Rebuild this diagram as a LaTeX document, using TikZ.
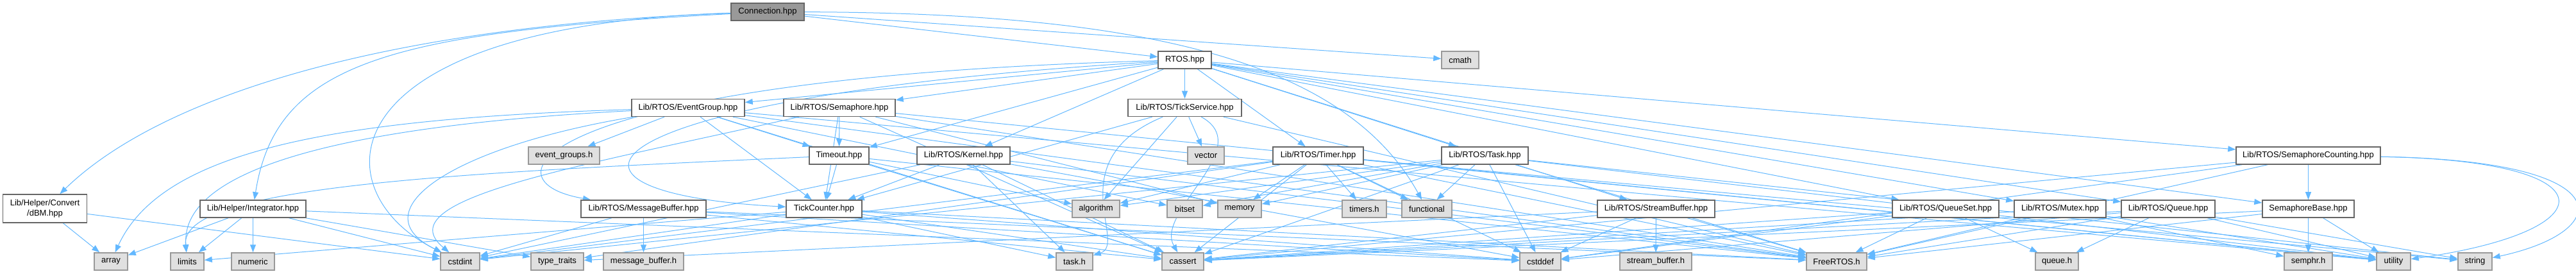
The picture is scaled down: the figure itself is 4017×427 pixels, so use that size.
\documentclass[tikz,border=0pt]{standalone}
\usepackage{fontspec}
\setmainfont{Liberation Sans}
\usetikzlibrary{arrows.meta}
\pgfdeclarelayer{bg}
\pgfsetlayers{bg,main}
\definecolor{edgeblue}{HTML}{63B8FF}
\definecolor{extfill}{HTML}{E0E0E0}
\definecolor{extdraw}{HTML}{999999}
\definecolor{filedraw}{HTML}{666666}
\definecolor{rootfill}{HTML}{999999}
\begin{document}
\begin{tikzpicture}[x=1pt,y=-1pt,
  font=\fontsize{13}{16}\selectfont,
  box/.style={rectangle, inner sep=0pt, minimum height=27pt, line width=1.5pt, text=black},
  file/.style={box, fill=white, draw=filedraw},
  ext/.style={box, fill=extfill, draw=extdraw},
  root/.style={box, fill=rootfill, draw=filedraw},
  dep/.style={draw=edgeblue, line width=1pt, -{Triangle[length=12pt,width=9pt]}, fill=none}]
\useasboundingbox (0,0) rectangle (4017,427);
% row 0 / 1
\node[root, minimum width=114] (conn) at (1197,18.5) {Connection.hpp};
\node[file, minimum width=83] (rtos) at (1847.5,93.5) {RTOS.hpp};
\node[ext, minimum width=58] (cmath) at (2277,93.5) {cmath};
% row 2
\node[file, minimum width=176] (eventgroup) at (1073,168) {Lib/RTOS/EventGroup.hpp};
\node[file, minimum width=174] (semaphore) at (1309,168) {Lib/RTOS/Semaphore.hpp};
\node[file, minimum width=177] (tickservice) at (1847.5,168) {Lib/RTOS/TickService.hpp};
% row 3
\node[ext, minimum width=111] (eventgroupsh) at (879.5,242.5) {event\_groups.h};
\node[file, minimum width=93] (timeout) at (1308.5,242.5) {Timeout.hpp};
\node[file, minimum width=145] (kernel) at (1502.5,242.5) {Lib/RTOS/Kernel.hpp};
\node[ext, minimum width=57] (vector) at (1880.5,242.5) {vector};
\node[file, minimum width=141] (timer) at (2055.5,242.5) {Lib/RTOS/Timer.hpp};
\node[file, minimum width=135] (task) at (2315.5,242.5) {Lib/RTOS/Task.hpp};
\node[file, minimum width=225] (semcount) at (3599.5,242.5) {Lib/RTOS/SemaphoreCounting.hpp};
% row 4
\node[file, minimum width=131, minimum height=44pt, align=center] (dbm) at (70,325) {Lib/Helper/Convert\\/dBM.hpp};
\node[file, minimum width=165] (integrator) at (394.5,325.5) {Lib/Helper/Integrator.hpp};
\node[file, minimum width=195] (msgbuf) at (1003.5,325.5) {Lib/RTOS/MessageBuffer.hpp};
\node[file, minimum width=118] (tickcounter) at (1285,325.5) {TickCounter.hpp};
\node[ext, minimum width=74] (algorithm) at (1709,325.5) {algorithm};
\node[ext, minimum width=55] (bitset) at (1847.5,325.5) {bitset};
\node[ext, minimum width=68] (memory) at (1933,325.5) {memory};
\node[ext, minimum width=69] (timersh) at (2127.5,325.5) {timers.h};
\node[ext, minimum width=78] (functional) at (2225,325.5) {functional};
\node[file, minimum width=183] (streambuf) at (2582.5,325.5) {Lib/RTOS/StreamBuffer.hpp};
\node[file, minimum width=166] (queueset) at (3034,325.5) {Lib/RTOS/QueueSet.hpp};
\node[file, minimum width=143] (mutex) at (3212.5,325.5) {Lib/RTOS/Mutex.hpp};
\node[file, minimum width=146] (queue) at (3381,325.5) {Lib/RTOS/Queue.hpp};
\node[file, minimum width=143] (sembase) at (3599.5,325.5) {SemaphoreBase.hpp};
% row 5
\node[ext, minimum width=52] (array) at (173,407.5) {array};
\node[ext, minimum width=52] (limits) at (292,407.5) {limits};
\node[ext, minimum width=67] (numeric) at (394.5,407.5) {numeric};
\node[ext, minimum width=61] (cstdint) at (717.5,407.5) {cstdint};
\node[ext, minimum width=82] (typetraits) at (869,407.5) {type\_traits};
\node[ext, minimum width=125] (messagebufferh) at (1003.5,407.5) {message\_buffer.h};
\node[ext, minimum width=57] (taskh) at (1675.5,407.5) {task.h};
\node[ext, minimum width=65] (cassert) at (1844.5,407.5) {cassert};
\node[ext, minimum width=64] (cstddef) at (2402,407.5) {cstddef};
\node[ext, minimum width=112] (streambufferh) at (2582,407.5) {stream\_buffer.h};
\node[ext, minimum width=94] (freertosh) at (2864,407.5) {FreeRTOS.h};
\node[ext, minimum width=67] (queueh) at (3207.5,407.5) {queue.h};
\node[ext, minimum width=75] (semphrh) at (3599.5,407.5) {semphr.h};
\node[ext, minimum width=53] (utility) at (3732.5,407.5) {utility};
\node[ext, minimum width=53] (string) at (3859.5,407.5) {string};
\begin{pgfonlayer}{bg}
% straight edges
\foreach \t in {rtos,cmath} \draw[dep] (conn) -- (\t);
\foreach \t in {eventgroup,semaphore,tickservice,timeout,kernel,timer,task,semcount,streambuf,queueset,mutex,queue,sembase} \draw[dep] (rtos) -- (\t);
\foreach \t in {array,cstdint} \draw[dep] (dbm) -- (\t);
\foreach \t in {array,limits,numeric,cstdint,typetraits,cstddef} \draw[dep] (integrator) -- (\t);
\foreach \t in {eventgroupsh,timeout,tickcounter,freertosh,cassert,utility,bitset} \draw[dep] (eventgroup) -- (\t);
\foreach \t in {timeout,tickcounter,freertosh,memory,cassert,utility} \draw[dep] (semaphore) -- (\t);
\foreach \t in {vector,algorithm,tickcounter,freertosh} \draw[dep] (tickservice) -- (\t);
\foreach \t in {tickcounter,algorithm,cassert,freertosh} \draw[dep] (timeout) -- (\t);
\foreach \t in {tickcounter,taskh,cassert,freertosh,cstdint,cstddef} \draw[dep] (kernel) -- (\t);
\foreach \t in {timersh,functional,memory,utility,freertosh,cstdint,cassert,cstddef,algorithm,typetraits,string} \draw[dep] (timer) -- (\t);
\foreach \t in {functional,memory,cstddef,cstdint,freertosh,cassert,utility,string,algorithm,bitset} \draw[dep] (task) -- (\t);
\foreach \t in {sembase,semphrh,freertosh,cassert,cstddef} \draw[dep] (semcount) -- (\t);
\foreach \t in {semphrh,utility,freertosh,cassert} \draw[dep] (sembase) -- (\t);
\foreach \t in {messagebufferh,cstdint,freertosh,cassert,cstddef} \draw[dep] (msgbuf) -- (\t);
\foreach \t in {streambufferh,cstddef,freertosh,cassert,typetraits} \draw[dep] (streambuf) -- (\t);
\foreach \t in {queueh,freertosh,cassert,cstddef} \draw[dep] (queueset) -- (\t);
\foreach \t in {semphrh,freertosh,cassert,utility} \draw[dep] (mutex) -- (\t);
\foreach \t in {queueh,freertosh,utility,cassert,cstddef,string} \draw[dep] (queue) -- (\t);
\foreach \t in {freertosh,taskh,cstdint,cassert,limits,cstddef} \draw[dep] (tickcounter) -- (\t);
% curved edges
\draw[dep] (conn) .. controls (600,40) and (250,150) .. (dbm);
\draw[dep] (conn) .. controls (600,50) and (430,100) .. (integrator);
\draw[dep] (conn) .. controls (500,40) and (500,300) .. (cstdint);
\draw[dep] (conn) .. controls (1800,20) and (2100,100) .. (functional);
\draw[dep] (rtos) .. controls (850,120) and (740,280) .. (msgbuf);
\draw[dep] (rtos) .. controls (900,150) and (800,300) .. (tickcounter);
\draw[dep] (eventgroup) .. controls (500,185) and (250,240) .. (array);
\draw[dep] (eventgroup) .. controls (550,195) and (280,260) .. (limits);
\draw[dep] (eventgroup) .. controls (700,230) and (560,330) .. (cstdint);
\draw[dep] (semaphore) .. controls (900,260) and (600,310) .. (cstdint);
\draw[dep] (timeout) .. controls (700,270) and (280,290) .. (limits);
\draw[dep] (tickservice) .. controls (1650,250) and (1760,380) .. (taskh);
\draw[dep] (tickservice) .. controls (1960,230) and (1800,330) .. (cassert);
\draw[dep] (semcount) .. controls (4075,250) and (4070,360) .. (utility);
\draw[dep] (semcount) .. controls (4090,250) and (4080,360) .. (string);
\end{pgfonlayer}
\end{tikzpicture}
\end{document}
